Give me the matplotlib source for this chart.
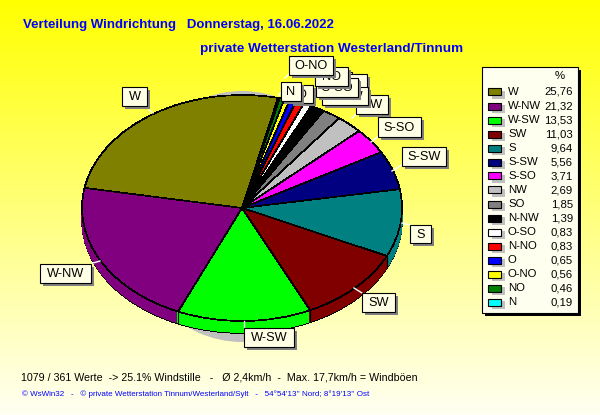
import numpy as np
import matplotlib.pyplot as plt
from matplotlib.patches import Ellipse, Rectangle

plt.rcParams['font.family'] = ['Liberation Sans', 'DejaVu Sans']

directions = ["W", "W-NW", "W-SW", "SW", "S", "S-SW", "S-SO", "NW", "SO", "N-NW",
              "O-SO", "N-NO", "O", "O-NO", "NO", "N"]
percent = [25.76, 21.32, 13.53, 11.03, 9.64, 5.56, 3.71, 2.69, 1.85, 1.39,
           0.83, 0.83, 0.65, 0.56, 0.46, 0.19]
colors = ["#808000", "#800080", "#00FF00", "#800000", "#008080", "#000080", "#FF00FF", "#C0C0C0",
          "#808080", "#000000", "#FFFFFF", "#FF0000", "#0000FF", "#FFFF00", "#008000", "#00FFFF"]

title1 = "Verteilung Windrichtung   Donnerstag, 16.06.2022"
title2 = "private Wetterstation Westerland/Tinnum"
footer1 = "1079 / 361 Werte  -> 25.1% Windstille   -   Ø 2,4km/h  -  Max. 17,7km/h = Windböen"
footer2 = "© WsWin32   -   © private Wetterstation Tinnum/Westerland/Sylt   -   54°54'13'' Nord; 8°19'13'' Ost"

W, H = 600, 415
cx, cy, rx, ry = 242, 208, 160, 113
depth = 12
start = 77

# label boxes in pixels: left, top, right, bottom. drawn in this order
boxes = {
    "W": (122, 87, 147, 106), "W-NW": (40, 264, 91, 283), "W-SW": (244, 328, 294, 347),
    "SW": (362, 293, 395, 312), "S": (410, 225, 431, 243), "S-SW": (402, 147, 446, 166),
    "S-SO": (378, 117, 421, 137), "NW": (356, 95, 388, 114), "SO": (320, 72, 352, 90),
    "N-NO": (322, 74, 367, 93), "N-NW": (322, 87, 368, 105), "O-SO": (316, 78, 358, 97),
    "NO": (315, 67, 348, 86), "O": (290, 85, 313, 103), "O-NO": (289, 56, 333, 75),
    "N": (281, 82, 301, 101),
}
leaders = [(149, 110, 153, 113), (93, 263, 100, 261), (244, 321, 244, 328), (354, 288, 362, 293),
           (402, 223, 410, 225), (392, 171, 402, 165), (371, 142, 380, 135), (352, 118, 358, 112),
           (285, 78, 290, 73), (279, 95, 283, 90)]

fig = plt.figure(figsize=(W / 100, H / 100), dpi=100)

# background
bg = fig.add_axes([0, 0, 1, 1], zorder=0)
grad = np.ones((256, 1, 3))
grad[:, 0, 2] = np.linspace(0, 0.95, 256)
bg.imshow(grad, aspect="auto", extent=(0, 1, 0, 1), origin="upper")
bg.axis("off")

# pie, squashed to an ellipse in its own axes
mx, my = 182, 150
ax = fig.add_axes([(cx - mx) / W, (H - cy - my) / H, 2 * mx / W, 2 * my / H], zorder=1)
ax.add_patch(Ellipse((0, -8.5 / ry), 2 * 115 / rx, 2 * 125.5 / ry, fc="#C0C0C0", ec="none", zorder=0))

z = 1
for k in range(depth, 0, -1):
    wedges, _ = ax.pie(percent, colors=colors, startangle=start, counterclock=True, center=(0, -k / ry),
                       wedgeprops={"antialiased": False, "zorder": z, "linewidth": 0.5})
    for wd, c in zip(wedges, colors):
        wd.set_edgecolor("black" if k == depth else c)
        wd.set_zorder(z)
    z += 1

wedges, _ = ax.pie(percent, colors=colors, startangle=start, center=(0, 0),
                   wedgeprops={"antialiased": False, "edgecolor": "black", "linewidth": 0.5})
for wd in wedges:
    wd.set_zorder(z)

# vertical edges of the visible side
ang = np.radians(start + np.cumsum(percent) * 3.6)
for a in ang:
    if np.sin(a) < 0:
        ax.plot([np.cos(a)] * 2, [np.sin(a), np.sin(a) - depth / ry], color="black", lw=0.8, zorder=z + 1)

ax.set_aspect("auto")
ax.set_xlim(-mx / rx, mx / rx)
ax.set_ylim(-my / ry, my / ry)
ax.axis("off")

# overlay in pixel coordinates
ov = fig.add_axes([0, 0, 1, 1], zorder=2)
ov.set_xlim(0, W)
ov.set_ylim(H, 0)
ov.axis("off")
ov.patch.set_alpha(0)

ov.text(23, 25, title1, color="#0000FF", fontsize=9.55, fontweight="bold", va="center")
ov.text(200, 49, title2, color="#0000FF", fontsize=9.7, fontweight="bold", va="center")
ov.text(21, 377, footer1, color="black", fontsize=7.7, va="center")
ov.text(22, 394, footer2, color="#0000FF", fontsize=5.8, va="center")

for x0, y0, x1, y1 in leaders:
    ov.plot([x0, x1], [y0, y1], color="white", lw=1)

for name, (l, t, r, b) in boxes.items():
    ov.add_patch(Rectangle((l + 3, t + 3), r - l, b - t, fc="#808080", ec="none", zorder=3))
    ov.add_patch(Rectangle((l, t), r - l, b - t, fc="#FFFFE6", ec="black", lw=0.8, zorder=3))
    ov.text((l + r) / 2, (t + b) / 2 + 0.5, name, fontsize=9.2, ha="center", va="center", zorder=3)

# legend box
ov.add_patch(Rectangle((485, 70), 96, 246, fc="black", ec="none", zorder=4))
ov.add_patch(Rectangle((482, 67), 96, 246, fc="#FFFFF0", ec="black", lw=0.8, zorder=4))
ov.text(560, 76, "%", fontsize=8.2, ha="center", va="center", zorder=5)
for i, (name, val, c) in enumerate(zip(directions, percent, colors)):
    y = 92 + i * 14
    ov.add_patch(Rectangle((492, y - 1), 13, 8, fc="#C0C0C0", ec="none", zorder=5))
    ov.add_patch(Rectangle((488, y - 3.5), 13, 7, fc=c, ec="black", lw=0.8, zorder=5))
    ov.text(508, y, name, fontsize=8.2, va="center", zorder=5)
    ov.text(573, y, f"{val:.2f}".replace(".", ","), fontsize=8.2, ha="right", va="center", zorder=5)

plt.savefig("out.png", dpi=100)
plt.close()
